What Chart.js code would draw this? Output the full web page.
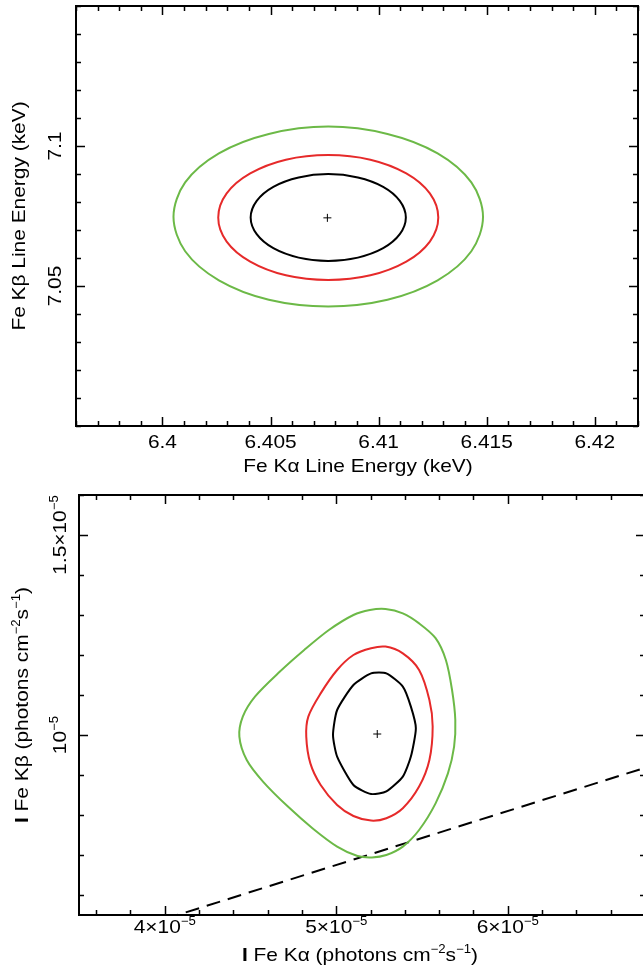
<!DOCTYPE html>
<html>
<head>
<meta charset="utf-8">
<script src="https://cdn.jsdelivr.net/npm/chart.js@4.4.0/dist/chart.umd.min.js"></script>
<style>
  html, body { margin: 0; padding: 0; background: #fff; overflow: hidden; }
  #wrap { position: relative; width: 643px; height: 971px; overflow: hidden; }
  canvas { position: absolute; left: 0; }
  #energy { top: 0; }
  #flux { top: 480px; }
</style>
</head>
<body>
<div id="wrap">
  <canvas id="energy" width="643" height="480"></canvas>
  <canvas id="flux" width="660" height="491"></canvas>
</div>
<script>
// ---- top panel: line energies (keV) ----
const energyXTicks = [6.4, 6.405, 6.41, 6.415, 6.42];
const energyXLabels = ['6.4', '6.405', '6.41', '6.415', '6.42'];
const energyYTicks = [7.05, 7.1];
const energyYLabels = ['7.05', '7.1'];

// 1, 2, 3 sigma contours (Ka energy, Kb energy), starting at the left edge
const e1x = [6.40408, 6.40436, 6.40513, 6.40630, 6.40767, 6.40904, 6.41021, 6.41098, 6.41126, 6.41098, 6.41021, 6.40904, 6.40767, 6.40630, 6.40513, 6.40436, 6.40408];
const e1y = [7.07446, 7.08043, 7.08544, 7.08878, 7.08998, 7.08878, 7.08544, 7.08043, 7.07446, 7.06850, 7.06349, 7.06014, 7.05895, 7.06014, 7.06349, 7.06850, 7.07446];
const e2x = [6.40258, 6.40297, 6.40406, 6.40571, 6.40767, 6.40962, 6.41128, 6.41237, 6.41276, 6.41237, 6.41128, 6.40962, 6.40767, 6.40571, 6.40406, 6.40297, 6.40258];
const e2y = [7.07446, 7.08306, 7.09021, 7.09511, 7.09678, 7.09511, 7.09021, 7.08306, 7.07446, 7.06587, 7.05871, 7.05382, 7.05215, 7.05382, 7.05871, 7.06587, 7.07446];
const e3x = [6.40051, 6.40105, 6.40261, 6.40492, 6.40767, 6.41041, 6.41273, 6.41429, 6.41483, 6.41429, 6.41273, 6.41041, 6.40767, 6.40492, 6.40261, 6.40105, 6.40051];
const e3y = [7.07470, 7.08699, 7.09737, 7.10430, 7.10692, 7.10430, 7.09737, 7.08699, 7.07470, 7.06241, 7.05203, 7.04511, 7.04272, 7.04511, 7.05203, 7.06241, 7.07470];
const eBest = [6.40763, 7.07434];

// ---- bottom panel: line fluxes (units of 1e-5 photons cm-2 s-1), starting at the bottom ----
const f1x = [5.203, 5.100, 5.005, 4.981, 5.005, 5.100, 5.203, 5.292, 5.388, 5.435, 5.464, 5.435, 5.388, 5.292, 5.203];
const f1y = [0.8525, 0.875, 0.946, 1.0, 1.0625, 1.125, 1.154, 1.154, 1.121, 1.071, 1.017, 0.946, 0.896, 0.859, 0.8525];
const f2x = [5.203, 5.100, 5.005, 4.909, 4.849, 4.825, 4.837, 4.909, 5.005, 5.100, 5.203, 5.287, 5.388, 5.483, 5.543, 5.562, 5.543, 5.483, 5.388, 5.292, 5.203];
const f2y = [0.786, 0.7975, 0.825, 0.875, 0.929, 0.996, 1.046, 1.104, 1.1625, 1.2, 1.217, 1.221, 1.204, 1.1625, 1.0875, 1.021, 0.9375, 0.871, 0.817, 0.792, 0.786];
const f3x = [5.208, 5.124, 5.005, 4.861, 4.718, 4.574, 4.478, 4.435, 4.455, 4.526, 4.670, 4.813, 4.957, 5.100, 5.196, 5.287, 5.388, 5.483, 5.579, 5.639, 5.675, 5.694, 5.687, 5.651, 5.579, 5.483, 5.388, 5.292, 5.208];
const f3y = [0.694, 0.6975, 0.721, 0.767, 0.821, 0.883, 0.9375, 0.996, 1.046, 1.096, 1.158, 1.2125, 1.2625, 1.3, 1.3125, 1.315, 1.304, 1.279, 1.242, 1.1875, 1.1125, 1.0375, 0.971, 0.904, 0.829, 0.7625, 0.721, 0.7, 0.694];
const fBest = [5.239, 1.0025];
// Kb/Ka ratio line
const ratioX = [4.0, 6.8];
const ratioY = [0.540, 0.918];

const fluxXTicks = [4, 5, 6];
const fluxXLabels = ['4', '5', '6'];
const fluxYTicks = [1.0, 1.5];
const fluxYLabels = ['', '1.5'];

const GREEN = '#6cb947';
const RED = '#e62a2a';
const FONT = "'Liberation Sans', Arial, Helvetica, sans-serif";
const SIZE = 19;
const SUP = 12;
const STRETCH = 1.1;

const pts = (xs, ys) => xs.map((x, i) => ({ x: x, y: ys[i] }));

// draw text made of pieces, some as superscripts, centred on x
function richText(ctx, segs, x, y, angle) {
  ctx.save();
  ctx.translate(x, y);
  if (angle) ctx.rotate(angle);
  ctx.scale(STRETCH, 1);
  const fontOf = s => (s.bold ? 'bold ' : '') + (s.sup ? SUP : SIZE) + 'px ' + FONT;
  let w = 0;
  segs.forEach(s => { ctx.font = fontOf(s); w += ctx.measureText(s.t).width; });
  let cx = -w / 2;
  ctx.textBaseline = 'alphabetic';
  ctx.textAlign = 'left';
  ctx.fillStyle = '#000';
  segs.forEach(s => {
    ctx.font = fontOf(s);
    ctx.fillText(s.t, cx, s.sup ? -SIZE * 0.4 : 0);
    cx += ctx.measureText(s.t).width;
  });
  ctx.restore();
}

function minorList(min, max, step) {
  const out = [];
  for (let k = Math.ceil(min / step - 1e-6); k * step <= max + 1e-9; k++) out.push(k * step);
  return out;
}

const frameAxes = {
  id: 'frameAxes',
  afterDatasetsDraw(chart, args, o) {
    const ctx = chart.ctx, a = chart.chartArea;
    const sx = chart.scales.x, sy = chart.scales.y;
    ctx.save();
    ctx.strokeStyle = '#000';
    ctx.lineWidth = 1.5;
    ctx.beginPath();
    const xt = (v, len) => {
      const p = Math.round(sx.getPixelForValue(v)) + 0.5;
      ctx.moveTo(p, a.bottom); ctx.lineTo(p, a.bottom - len);
      ctx.moveTo(p, a.top); ctx.lineTo(p, a.top + len);
    };
    const yt = (v, len) => {
      const p = Math.round(sy.getPixelForValue(v)) + 0.5;
      ctx.moveTo(a.left, p); ctx.lineTo(a.left + len, p);
      ctx.moveTo(a.right, p); ctx.lineTo(a.right - len, p);
    };
    minorList(sx.min, sx.max, o.xMinor).forEach(v => xt(v, 5));
    minorList(sy.min, sy.max, o.yMinor).forEach(v => yt(v, 5));
    o.xTicks.forEach(v => xt(v, 9));
    o.yTicks.forEach(v => yt(v, 9));
    ctx.stroke();
    ctx.lineWidth = 2;
    ctx.strokeRect(a.left, a.top, a.right - a.left, a.bottom - a.top);

    o.xTicks.forEach((v, i) => {
      richText(ctx, o.xLabel(i), sx.getPixelForValue(v), o.xLabelY);
    });
    o.yTicks.forEach((v, i) => {
      richText(ctx, o.yLabel(i), o.yLabelX, sy.getPixelForValue(v), -Math.PI / 2);
    });
    richText(ctx, o.xTitle, (a.left + a.right) / 2 + o.xTitleShift, o.xTitleY);
    richText(ctx, o.yTitle, o.yTitleX, (a.top + a.bottom) / 2, -Math.PI / 2);
    ctx.restore();
  }
};

// closed contour: pad with the neighbours of the seam so the curve is smooth there,
// and hide the two padding segments
function contour(xs, ys, color, tension) {
  const p = pts(xs, ys);
  const n = p.length;
  const data = [Object.assign({}, p[n - 2])].concat(p, [Object.assign({}, p[1])]);
  const last = data.length - 1;
  return {
    data: data, showLine: true, borderColor: color, borderWidth: 2, pointRadius: 0, tension: tension, fill: false,
    segment: { borderColor: c => (c.p0DataIndex === 0 || c.p1DataIndex === last) ? 'rgba(0,0,0,0)' : undefined }
  };
}
function bestFit(p) {
  return { data: [{ x: p[0], y: p[1] }], showLine: false, pointStyle: 'cross', pointRadius: 4, borderColor: '#000', borderWidth: 1 };
}

function baseOptions(pad, xr, yr, axes) {
  return {
    responsive: false,
    animation: false,
    devicePixelRatio: 1,
    layout: { padding: pad },
    scales: {
      x: { type: 'linear', display: false, min: xr[0], max: xr[1] },
      y: { type: 'linear', display: false, min: yr[0], max: yr[1] }
    },
    plugins: { legend: { display: false }, tooltip: { enabled: false }, frameAxes: axes }
  };
}

new Chart(document.getElementById('energy'), {
  type: 'scatter',
  data: {
    datasets: [
      contour(e3x, e3y, GREEN, 0.33),
      contour(e2x, e2y, RED, 0.33),
      contour(e1x, e1y, '#000', 0.33),
      bestFit(eBest)
    ]
  },
  options: baseOptions({ left: 76, right: 2, top: 6, bottom: 54 }, [6.396, 6.422], [7.0, 7.15], {
    xTicks: energyXTicks, xMinor: 0.001,
    yTicks: energyYTicks, yMinor: 0.01,
    xLabel: i => [{ t: energyXLabels[i] }],
    yLabel: i => [{ t: energyYLabels[i] }],
    xLabelY: 448, yLabelX: 61,
    xTitle: [{ t: 'Fe Kα Line Energy (keV)' }], xTitleY: 472, xTitleShift: 1,
    yTitle: [{ t: 'Fe Kβ Line Energy (keV)' }], yTitleX: 25
  }),
  plugins: [frameAxes]
});

new Chart(document.getElementById('flux'), {
  type: 'scatter',
  data: {
    datasets: [
      contour(f3x, f3y, GREEN, 0.3),
      contour(f2x, f2y, RED, 0.3),
      contour(f1x, f1y, '#000', 0.2),
      bestFit(fBest),
      { data: pts(ratioX, ratioY), showLine: true, borderColor: '#000', borderWidth: 2, borderDash: [14, 8], pointRadius: 0, fill: false }
    ]
  },
  options: baseOptions({ left: 79, right: 15, top: 15, bottom: 56 }, [3.5, 6.8], [0.55, 1.6], {
    xTicks: fluxXTicks, xMinor: 0.2,
    yTicks: fluxYTicks, yMinor: 0.1,
    xLabel: i => [{ t: fluxXLabels[i] + '×10' }, { t: '−5', sup: true }],
    yLabel: i => fluxYLabels[i] ? [{ t: fluxYLabels[i] + '×10' }, { t: '−5', sup: true }] : [{ t: '10' }, { t: '−5', sup: true }],
    xLabelY: 453, yLabelX: 66,
    xTitle: [{ t: 'I', bold: true }, { t: ' Fe Kα (photons cm' }, { t: '−2', sup: true }, { t: 's' }, { t: '−1', sup: true }, { t: ')' }],
    xTitleY: 481, xTitleShift: -2,
    yTitle: [{ t: 'I', bold: true }, { t: ' Fe Kβ (photons cm' }, { t: '−2', sup: true }, { t: 's' }, { t: '−1', sup: true }, { t: ')' }],
    yTitleX: 28
  }),
  plugins: [frameAxes]
});
</script>
</body>
</html>
